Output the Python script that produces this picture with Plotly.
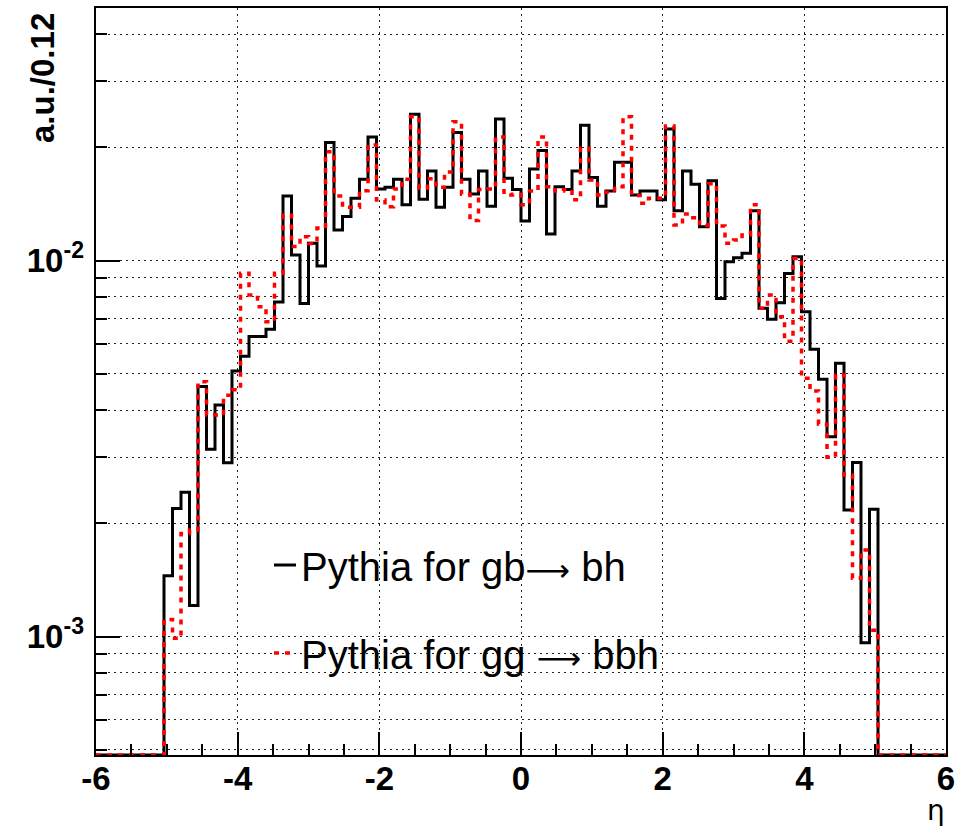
import numpy as np
import plotly.graph_objects as go

# ---------------- data ----------------
# 100 bins of width 0.12 from -6 to 6 ; bins 8..91 are non-empty
bin_edges = [round(-6 + 0.12 * i, 2) for i in range(101)]

gb_bh = [0]*8 + [
    1.45e-3, 2.19e-3, 2.42e-3, 1.21e-3, 4.62e-3, 3.15e-3, 4.13e-3, 2.90e-3, 5.08e-3, 5.56e-3,
    6.28e-3, 6.28e-3, 6.56e-3, 7.76e-3, 1.484e-2, 1.035e-2, 7.69e-3, 1.111e-2, 9.67e-3, 2.06e-2,
    1.205e-2, 1.31e-2, 1.464e-2, 1.644e-2, 2.13e-2, 1.549e-2, 1.566e-2, 1.644e-2, 1.406e-2, 2.45e-2,
    1.456e-2, 1.73e-2, 1.385e-2, 1.566e-2, 2.19e-2, 1.644e-2, 1.503e-2, 1.73e-2, 1.395e-2, 2.38e-2,
    1.654e-2, 1.545e-2, 1.274e-2, 1.75e-2, 1.96e-2, 1.176e-2, 1.571e-2, 1.545e-2, 1.73e-2, 2.29e-2,
    1.663e-2, 1.395e-2, 1.53e-2, 1.825e-2, 1.825e-2, 1.494e-2, 1.53e-2, 1.53e-2, 1.45e-2, 2.238e-2,
    1.356e-2, 1.73e-2, 1.594e-2, 1.23e-2, 1.63e-2, 7.93e-3, 9.93e-3, 1.017e-2, 1.045e-2, 1.356e-2,
    7.46e-3, 6.98e-3, 7.72e-3, 9.24e-3, 1.023e-2, 7.31e-3, 5.81e-3, 4.83e-3, 3.40e-3, 5.33e-3,
    2.17e-3, 2.905e-3, 9.63e-4, 2.18e-3,
] + [0]*8

gg_bbh = [0]*8 + [
    1.11e-3, 9.9e-4, 1.88e-3, 1.92e-3, 4.76e-3, 3.88e-3, 3.88e-3, 4.38e-3, 4.53e-3, 9.25e-3,
    8.1e-3, 7.53e-3, 6.87e-3, 9.25e-3, 1.32e-2, 1.09e-2, 1.157e-2, 1.11e-2, 1.22e-2, 1.945e-2,
    1.484e-2, 1.385e-2, 1.385e-2, 1.534e-2, 2.03e-2, 1.449e-2, 1.39e-2, 1.55e-2, 1.644e-2, 2.41e-2,
    1.56e-2, 1.65e-2, 1.566e-2, 1.72e-2, 2.34e-2, 1.50e-2, 1.277e-2, 1.545e-2, 1.55e-2, 2.13e-2,
    1.494e-2, 1.50e-2, 1.406e-2, 1.53e-2, 2.13e-2, 1.571e-2, 1.53e-2, 1.545e-2, 1.45e-2, 1.99e-2,
    1.637e-2, 1.494e-2, 1.52e-2, 1.571e-2, 2.41e-2, 1.49e-2, 1.42e-2, 1.464e-2, 1.464e-2, 2.279e-2,
    1.243e-2, 1.33e-2, 1.30e-2, 1.24e-2, 1.60e-2, 1.235e-2, 1.111e-2, 1.134e-2, 1.169e-2, 1.406e-2,
    7.46e-3, 8.10e-3, 7.09e-3, 6.1e-3, 1.013e-2, 4.86e-3, 4.5e-3, 3.67e-3, 3.0e-3, 4.96e-3,
    2.69e-3, 1.43e-3, 1.70e-3, 1.04e-3,
] + [0]*8

ARROW = '<span style="font-family:DejaVu Sans;font-size:31px">\u27f6</span>'
series_names = ["Pythia for gb" + ARROW + " bh", "Pythia for gg " + ARROW + " bbh"]
x_tick_vals = [-6, -4, -2, 0, 2, 4, 6]
x_tick_text = ["-6", "-4", "-2", "0", "2", "4", "6"]
y_major_vals = [1e-3, 1e-2]
y_major_text = ["10<sup>-3</sup>", "10<sup>-2</sup>"]
x_title = "\u03b7"
y_title = "a.u./0.12"

# ---------------- layout constants ----------------
W, H = 955, 826
ML, MR, MT, MB = 96, 9, 8, 71
PW, PH = W - ML - MR, H - MT - MB
YLOG_RANGE = [-3.315, -1.3285]
FONT = "Liberation Sans, Arial, sans-serif"


def px(xp):
    return (xp - ML) / PW


def py(yp):
    return (H - MB - yp) / PH


ymin = 10 ** YLOG_RANGE[0]


def steps(vals):
    v = [val if val > 0 else ymin for val in vals]
    return v + [v[-1]]


fig = go.Figure()
fig.add_trace(go.Scatter(x=bin_edges, y=steps(gb_bh), mode="lines", line_shape="hv",
                         line=dict(color="black", width=3), showlegend=False, hoverinfo="skip"))
fig.add_trace(go.Scatter(x=bin_edges, y=steps(gg_bbh), mode="lines", line_shape="hv",
                         line=dict(color="#ff0000", width=3.5, dash="5px,6px"),
                         showlegend=False, hoverinfo="skip"))
# invisible trace to attach overlay axis
fig.add_trace(go.Scatter(x=[0], y=[1e-2], yaxis="y2", mode="markers", marker=dict(opacity=0),
                         showlegend=False, hoverinfo="skip"))

minor_vals = [k * 10.0 ** e for e in (-4, -3, -2, -1) for k in range(1, 10)]
minor_vals = [v for v in minor_vals if YLOG_RANGE[0] <= np.log10(v) <= YLOG_RANGE[1]]

grid_dash = "2px,4px"
fig.update_layout(
    width=W, height=H,
    margin=dict(l=ML, r=MR, t=MT, b=MB, autoexpand=False),
    paper_bgcolor="white", plot_bgcolor="white",
    font=dict(family=FONT, color="black"),
    xaxis=dict(
        range=[-6, 6], tickmode="array", tickvals=x_tick_vals, ticktext=x_tick_text,
        ticks="inside", ticklen=23, tickwidth=1.5, tickcolor="black",
        tickfont=dict(family=FONT, size=33, weight="bold", color="black"),
        showgrid=True, gridcolor="#222", griddash=grid_dash, gridwidth=1,
        minor=dict(tickmode="linear", tick0=-6, dtick=0.5, ticks="inside", ticklen=11,
                   tickwidth=1.5, tickcolor="black", showgrid=False),
        showline=True, linecolor="black", linewidth=2, mirror=True, zeroline=False,
        ticklabelstandoff=-7, automargin=False, ticklabeloverflow="allow",
    ),
    yaxis=dict(
        type="log", range=YLOG_RANGE, tickmode="array", tickvals=minor_vals,
        showticklabels=False,
        ticks="inside", ticklen=11, tickwidth=1.5, tickcolor="black",
        showgrid=True, gridcolor="#222", griddash=grid_dash, gridwidth=1,
        showline=True, linecolor="black", linewidth=2, mirror=True, zeroline=False,
        automargin=False,
    ),
    yaxis2=dict(
        type="log", range=YLOG_RANGE, overlaying="y", side="left", anchor="x",
        tickmode="array", tickvals=y_major_vals, ticktext=y_major_text,
        ticks="inside", ticklen=24, tickwidth=1.5, tickcolor="black",
        tickfont=dict(family=FONT, size=33, weight="bold", color="black"),
        showgrid=False, showline=False, zeroline=False, ticklabelstandoff=11,
        automargin=False,
    ),
)

# axis titles
fig.add_annotation(text=y_title, xref="paper", yref="paper", x=px(42), y=py(11),
                   xanchor="center", yanchor="top", textangle=-90, showarrow=False,
                   font=dict(family=FONT, size=33, weight="bold", color="black"))
fig.add_annotation(text=x_title, xref="paper", yref="paper", x=px(947), y=py(792),
                   xanchor="right", yanchor="top", showarrow=False,
                   font=dict(family="DejaVu Sans, sans-serif", size=28, color="black"))

# legend
leg_rows = [(567, "black", "solid", 3), (655, "#ff0000", "5px,6px", 3.5)]
for (yc, col, dash, lw), name in zip(leg_rows, series_names):
    fig.add_shape(type="line", xref="paper", yref="paper", x0=px(274), x1=px(296),
                  y0=py(yc - 2), y1=py(yc - 2), line=dict(color=col, width=lw, dash=dash))
    fig.add_annotation(text=name, xref="paper", yref="paper", x=px(299), y=py(yc),
                       xanchor="left", yanchor="middle", showarrow=False,
                       font=dict(family=FONT, size=40, color="black"))

fig.write_html("out.html")
